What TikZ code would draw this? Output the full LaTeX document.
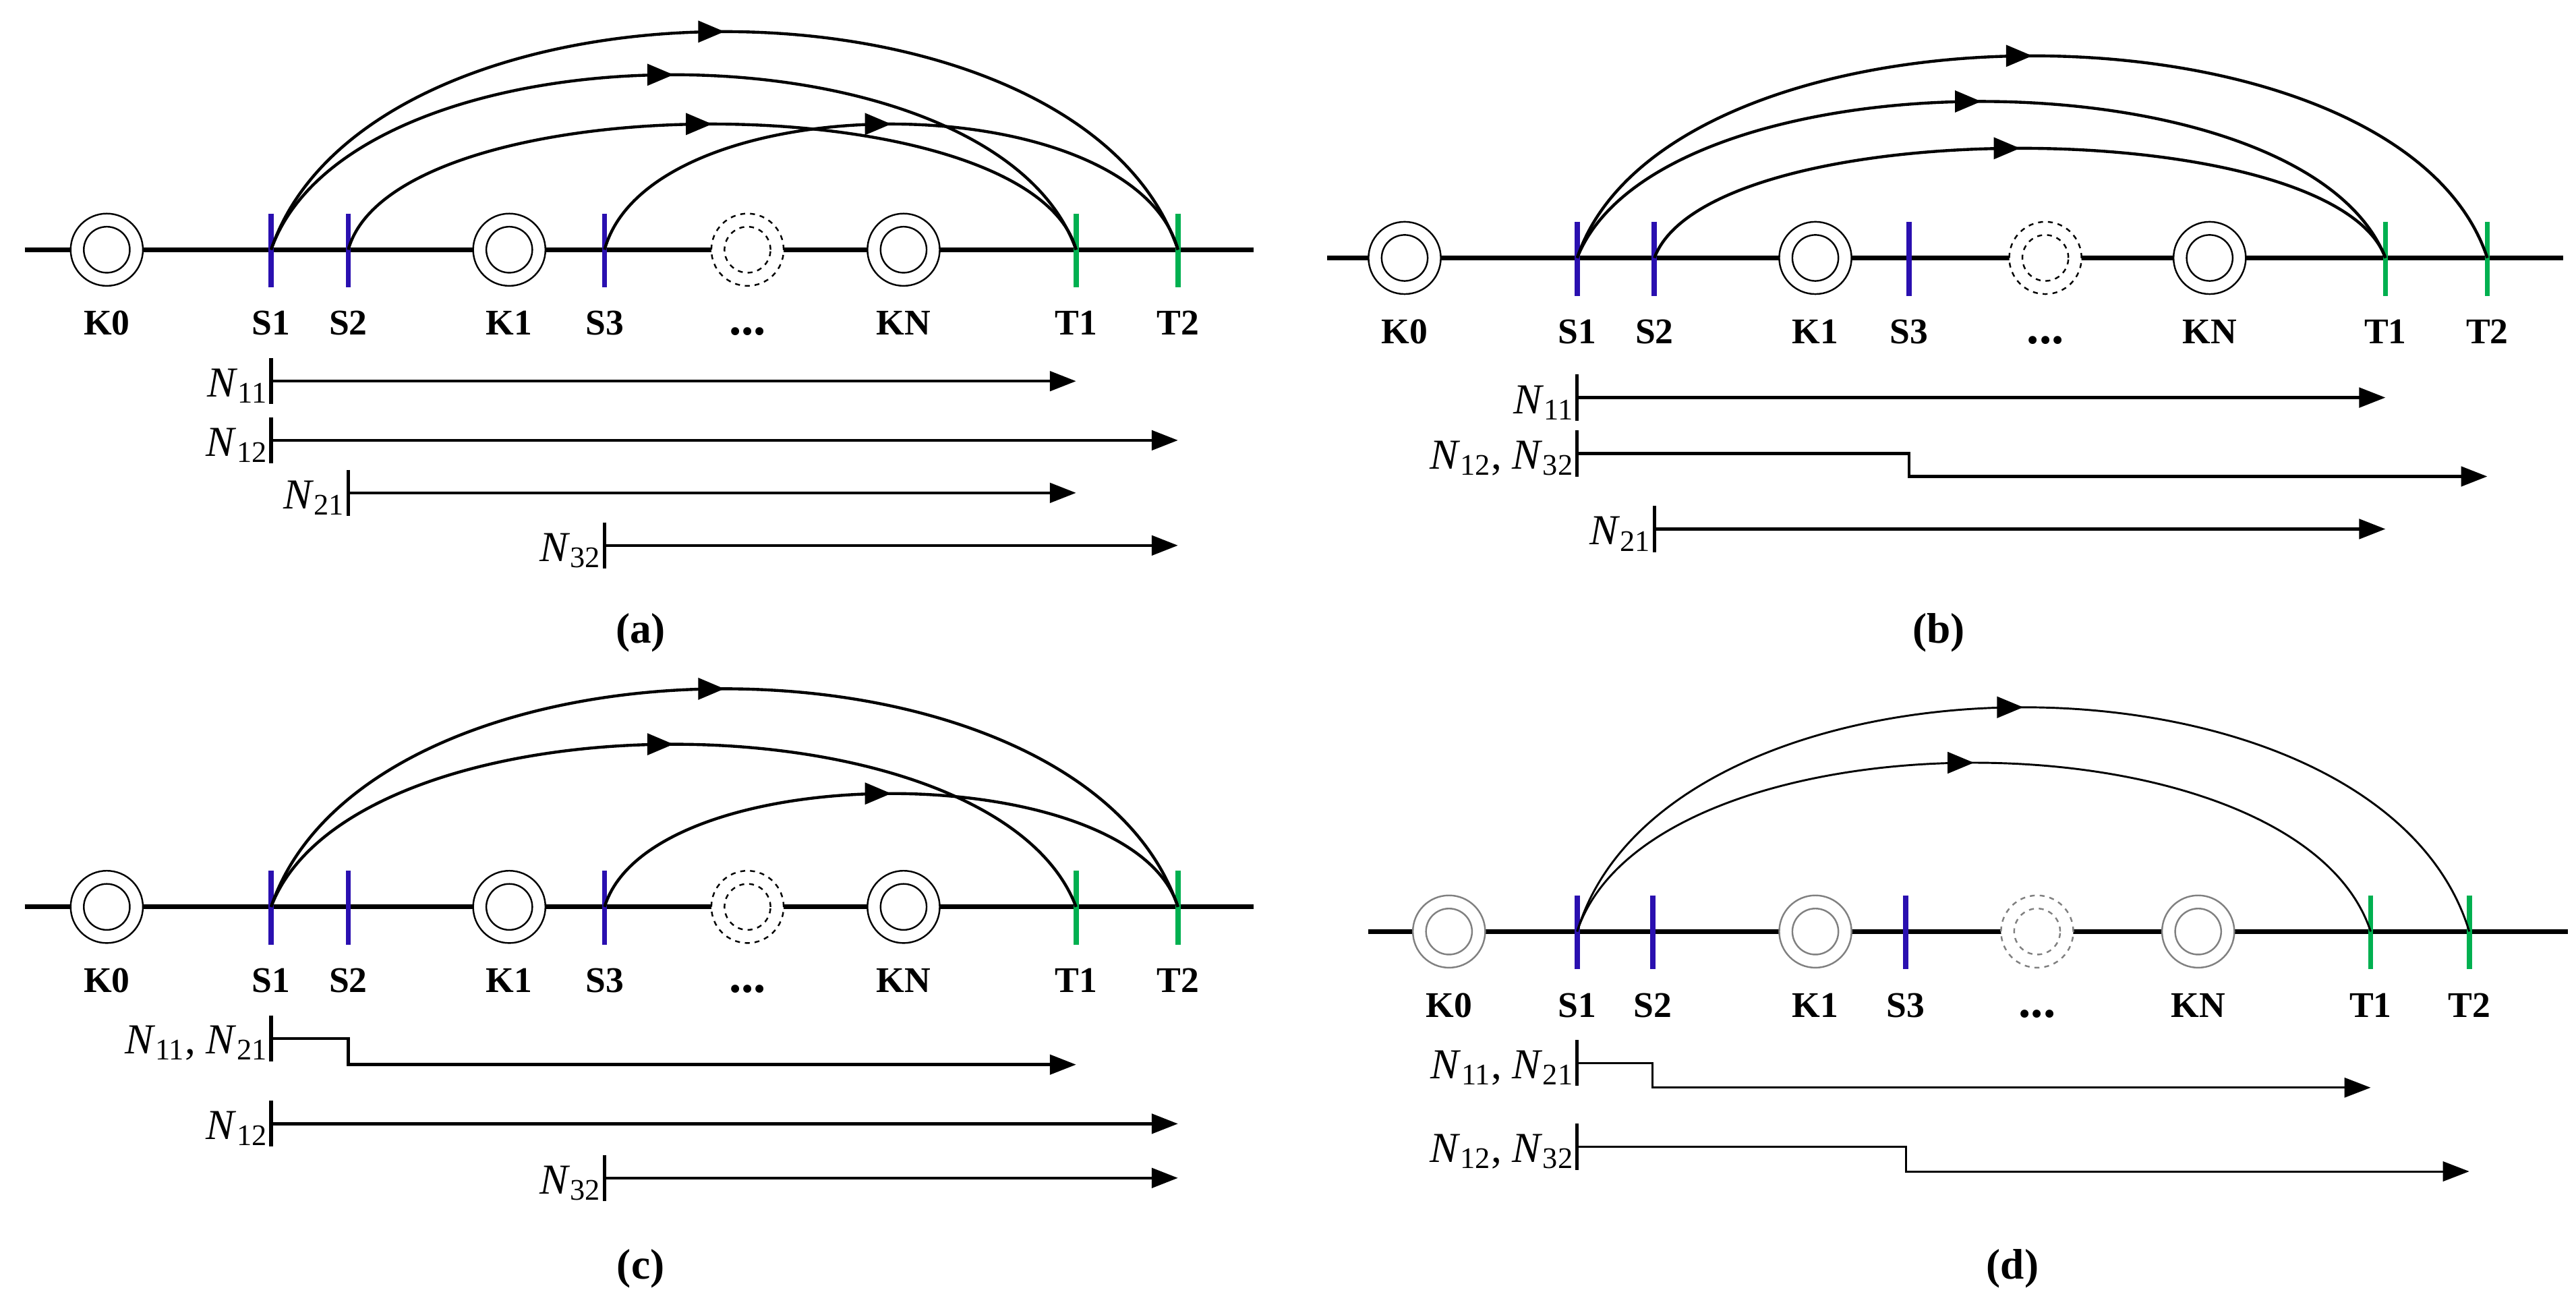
\documentclass[tikz,border=0pt]{standalone}
\usepackage{fontspec}
\setmainfont{Liberation Serif}
\usetikzlibrary{arrows.meta,decorations.markings}
\definecolor{sblue}{HTML}{2A10B0}
\definecolor{tgreen}{HTML}{00B050}
\tikzset{
  axis/.style={line width=3pt},
  tick/.style={line width=3.2pt},
  lab/.style={font=\bfseries\fontsize{22}{22}\selectfont, anchor=base},
  arc/.style={line width=1.8pt, postaction={decorate}, decoration={markings, mark=at position 0.5 with {\arrow{Triangle[length=16pt,width=13pt]}}}},
  row/.style={line width=1.8pt, -{Triangle[length=16pt,width=12pt]}},
  bar/.style={line width=2.2pt},
  nl/.style={font=\fontsize{26}{26}\selectfont, anchor=east, inner sep=2pt},
  captxt/.style={font=\bfseries\fontsize{26}{26}\selectfont},
  ring/.style={circle, draw, line width=1pt, minimum size=44pt, inner sep=0pt, fill=white},
  iring/.style={circle, draw, line width=1pt, minimum size=28pt, inner sep=0pt},
}
\newcommand\NN[1]{\textit{N}\textsubscript{#1}}
\newcommand\mystation[5]{% prefix x y ringstyle name
  \node[ring,#4] (#1r#5) at (#2,#3) {};
  \node[iring,#4] (#1i#5) at (#2,#3) {};
  \node[lab] (#1l#5) at (#2,#3+52) {#5};}
\newcommand\mytick[5]{% prefix x y color name
  \coordinate (#1#5) at (#2,#3);
  \draw[tick,#4] (#2,#3-22) coordinate (#1#5top) -- (#2,#3+23) coordinate (#1#5bot);
  \node[lab] (#1l#5) at (#2,#3+52) {#5};}
\newcommand\mypanel[4]{% prefix y xstart xend
  \coordinate (#1L) at (#3,#2); \coordinate (#1R) at (#4,#2);
  \draw[axis] (#1L) -- (#1R);}
\begin{document}
\begin{tikzpicture}[x=1pt,y=-1pt]
\useasboundingbox (0,0) rectangle (1568,799);
% ---------- (a)
\mypanel{a}{152}{15}{763}
\mystation{a}{65}{152}{}{K0}
\mystation{a}{310}{152}{}{K1}
\mystation{a}{455}{152}{dashed}{}
\node[lab] (adots) at (455,204) {\textbf{\fontsize{30}{30}\selectfont ...}};
\mystation{a}{550}{152}{}{KN}
\mytick{a}{165}{152}{sblue}{S1}
\mytick{a}{212}{152}{sblue}{S2}
\mytick{a}{368}{152}{sblue}{S3}
\mytick{a}{655}{152}{tgreen}{T1}
\mytick{a}{717}{152}{tgreen}{T2}
\draw[arc] (aS1) .. controls (225,-25) and (657,-25) .. (aT2);
\draw[arc] (aS1) .. controls (215,10) and (605,10) .. (aT1);
\draw[arc] (aS2) .. controls (240,50) and (627,50) .. (aT1);
\draw[arc] (aS3) .. controls (396,50) and (689,50) .. (aT2);
\foreach \n/\xs/\xe/\yy in {11/165/655/232, 12/165/717/268, 21/212/655/300, 32/368/717/332}{
  \coordinate (ar\n s) at (\xs,\yy); \coordinate (ar\n e) at (\xe,\yy);
  \draw[bar] (\xs,\yy-14) -- (\xs,\yy+14);
  \draw[row] (ar\n s) -- (ar\n e);
  \node[nl] (an\n) at (\xs,\yy+3) {\NN{\n}};}
\node[captxt] (capa) at (390,385) {(a)};
% ---------- (b)
\mypanel{b}{157}{808}{1560}
\mystation{b}{855}{157}{}{K0}
\mystation{b}{1105}{157}{}{K1}
\mystation{b}{1245}{157}{dashed}{}
\node[lab] (bdots) at (1245,209) {\textbf{\fontsize{30}{30}\selectfont ...}};
\mystation{b}{1345}{157}{}{KN}
\mytick{b}{960}{157}{sblue}{S1}
\mytick{b}{1007}{157}{sblue}{S2}
\mytick{b}{1162}{157}{sblue}{S3}
\mytick{b}{1452}{157}{tgreen}{T1}
\mytick{b}{1514}{157}{tgreen}{T2}
\draw[arc] (bS1) .. controls (1015,-7) and (1460,-7) .. (bT2);
\draw[arc] (bS1) .. controls (1010,30) and (1402,30) .. (bT1);
\draw[arc] (bS2) .. controls (1040,68) and (1420,68) .. (bT1);
\draw[bar] (960,228) -- (960,256); \coordinate (br11s) at (960,242); \coordinate (br11e) at (1452,242);
\draw[row] (br11s) -- (br11e); \node[nl] (bn11) at (960,245) {\NN{11}};
\draw[bar] (960,262) -- (960,290); \coordinate (br12s) at (960,276); \coordinate (br12e) at (1514,290);
\draw[row] (br12s) -- (1162,276) -- (1162,290) -- (br12e); \node[nl] (bn12) at (960,279) {\NN{12}, \NN{32}};
\draw[bar] (1007,308) -- (1007,336); \coordinate (br21s) at (1007,322); \coordinate (br21e) at (1452,322);
\draw[row] (br21s) -- (br21e); \node[nl] (bn21) at (1007,325) {\NN{21}};
\node[captxt] (capb) at (1180,385) {(b)};
% ---------- (c)
\mypanel{c}{552}{15}{763}
\mystation{c}{65}{552}{}{K0}
\mystation{c}{310}{552}{}{K1}
\mystation{c}{455}{552}{dashed}{}
\node[lab] (cdots) at (455,604) {\textbf{\fontsize{30}{30}\selectfont ...}};
\mystation{c}{550}{552}{}{KN}
\mytick{c}{165}{552}{sblue}{S1}
\mytick{c}{212}{552}{sblue}{S2}
\mytick{c}{368}{552}{sblue}{S3}
\mytick{c}{655}{552}{tgreen}{T1}
\mytick{c}{717}{552}{tgreen}{T2}
\draw[arc] (cS1) .. controls (225,375) and (657,375) .. (cT2);
\draw[arc] (cS1) .. controls (215,420) and (605,420) .. (cT1);
\draw[arc] (cS3) .. controls (396,460) and (689,460) .. (cT2);
\draw[bar] (165,618) -- (165,646); \coordinate (cr11s) at (165,632); \coordinate (cr11e) at (655,648);
\draw[row] (cr11s) -- (212,632) -- (212,648) -- (cr11e); \node[nl] (cn11) at (165,635) {\NN{11}, \NN{21}};
\draw[bar] (165,670) -- (165,698); \coordinate (cr12s) at (165,684); \coordinate (cr12e) at (717,684);
\draw[row] (cr12s) -- (cr12e); \node[nl] (cn12) at (165,687) {\NN{12}};
\draw[bar] (368,703) -- (368,731); \coordinate (cr32s) at (368,717); \coordinate (cr32e) at (717,717);
\draw[row] (cr32s) -- (cr32e); \node[nl] (cn32) at (368,720) {\NN{32}};
\node[captxt] (capc) at (390,772) {(c)};
% ---------- (d)
\mypanel{d}{567}{833}{1563}
\mystation{d}{882}{567}{draw=gray}{K0}
\mystation{d}{1105}{567}{draw=gray}{K1}
\mystation{d}{1240}{567}{draw=gray,dashed}{}
\node[lab] (ddots) at (1240,619) {\textbf{\fontsize{30}{30}\selectfont ...}};
\mystation{d}{1338}{567}{draw=gray}{KN}
\mytick{d}{960}{567}{sblue}{S1}
\mytick{d}{1006}{567}{sblue}{S2}
\mytick{d}{1160}{567}{sblue}{S3}
\mytick{d}{1443}{567}{tgreen}{T1}
\mytick{d}{1503}{567}{tgreen}{T2}
\draw[arc,line width=1.2pt] (dS1) .. controls (1015,385) and (1448,385) .. (dT2);
\draw[arc,line width=1.2pt] (dS1) .. controls (1005,430) and (1398,430) .. (dT1);
\draw[bar] (960,633) -- (960,661); \coordinate (dr11s) at (960,647); \coordinate (dr11e) at (1443,662);
\draw[row,line width=1.2pt] (dr11s) -- (1006,647) -- (1006,662) -- (dr11e); \node[nl] (dn11) at (960,650) {\NN{11}, \NN{21}};
\draw[bar] (960,684) -- (960,712); \coordinate (dr12s) at (960,698); \coordinate (dr12e) at (1503,713);
\draw[row,line width=1.2pt] (dr12s) -- (1160,698) -- (1160,713) -- (dr12e); \node[nl] (dn12) at (960,701) {\NN{12}, \NN{32}};
\node[captxt] (capd) at (1225,772) {(d)};
\end{tikzpicture}
\end{document}
